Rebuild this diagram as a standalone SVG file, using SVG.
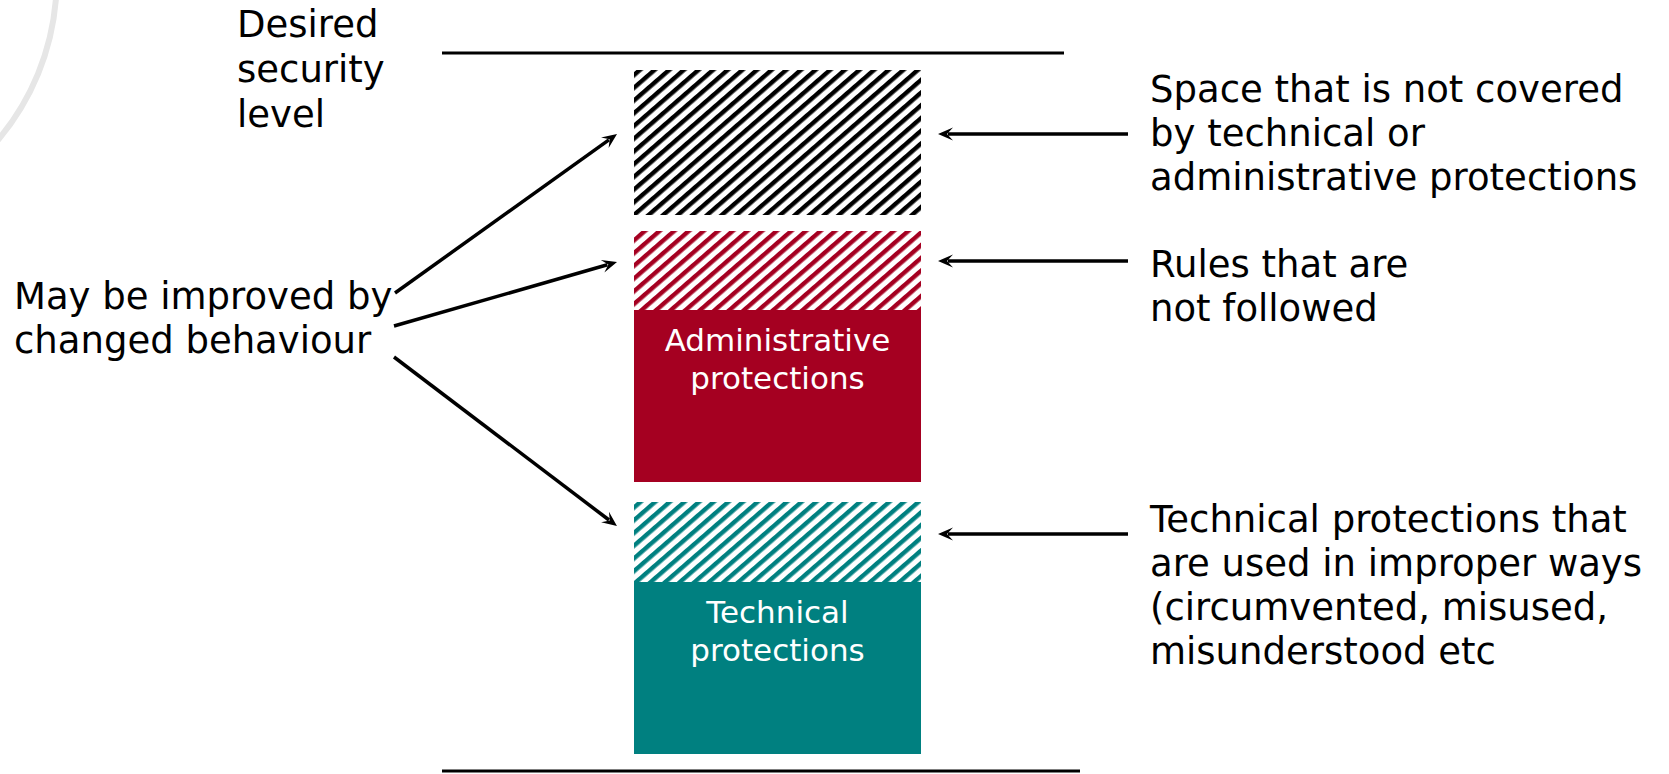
<svg xmlns="http://www.w3.org/2000/svg" width="1669" height="774" viewBox="0 0 1669 774">
  <style>
    .lbl { font-family: "DejaVu Sans", Verdana, sans-serif; font-size: 37px; fill: #000; }
    .inner { font-family: "DejaVu Sans", Verdana, sans-serif; font-size: 31px; fill: #fff; text-anchor: middle; }
    .rule { stroke: #000; stroke-width: 3; }
    .conn { stroke: #000; stroke-width: 3.5; fill: none; marker-end: url(#head); }
  </style>
  <defs>
    <marker id="head" markerUnits="userSpaceOnUse" markerWidth="15" markerHeight="13" refX="5" refY="6.5" orient="auto" overflow="visible">
      <path d="M0,0 L15,6.5 L0,13 L6,6.5 Z" fill="#000"/>
    </marker>
    <pattern id="hatchBlack" patternUnits="userSpaceOnUse" width="10" height="9.6" patternTransform="rotate(-41)">
      <rect x="0" y="0" width="10" height="9.6" fill="#fff"/>
      <rect x="0" y="0" width="10" height="4.4" fill="#000"/>
    </pattern>
    <pattern id="hatchRed" patternUnits="userSpaceOnUse" width="10" height="9.6" patternTransform="rotate(-41)">
      <rect x="0" y="0" width="10" height="9.6" fill="#fff"/>
      <rect x="0" y="0" width="10" height="4.4" fill="#A50021"/>
    </pattern>
    <pattern id="hatchTeal" patternUnits="userSpaceOnUse" width="10" height="9.6" patternTransform="rotate(-41)">
      <rect x="0" y="0" width="10" height="9.6" fill="#fff"/>
      <rect x="0" y="0" width="10" height="4.4" fill="#008080"/>
    </pattern>
  </defs>

  <rect width="1669" height="774" fill="#fff"/>

  <!-- faint seal edge in the corner -->
  <path d="M56,-2 A250,250 0 0 1 -2,140" fill="none" stroke="#e6e6e6" stroke-width="6"/>

  <!-- reference levels -->
  <line class="rule" x1="442" y1="53" x2="1064" y2="53"/>
  <line class="rule" x1="442" y1="771" x2="1080" y2="771"/>

  <g id="desired-level">
    <text class="lbl" x="237" y="37">Desired</text>
    <text class="lbl" x="237" y="82">security</text>
    <text class="lbl" x="237" y="127">level</text>
  </g>

  <g id="uncovered-space">
    <rect x="634" y="70" width="287" height="145" fill="url(#hatchBlack)"/>
  </g>

  <g id="administrative">
    <rect x="634" y="231" width="287" height="79" fill="url(#hatchRed)"/>
    <rect x="634" y="310" width="287" height="172" fill="#A50021"/>
    <text class="inner" x="777.5" y="351">Administrative</text>
    <text class="inner" x="777.5" y="389">protections</text>
  </g>

  <g id="technical">
    <rect x="634" y="502" width="287" height="80" fill="url(#hatchTeal)"/>
    <rect x="634" y="582" width="287" height="172" fill="#008080"/>
    <text class="inner" x="777.5" y="623">Technical</text>
    <text class="inner" x="777.5" y="661">protections</text>
  </g>

  <g id="behaviour">
    <text class="lbl" x="14" y="309">May be improved by</text>
    <text class="lbl" x="14" y="353">changed behaviour</text>
  </g>

  <g id="note-uncovered">
    <text class="lbl" x="1150" y="102">Space that is not covered</text>
    <text class="lbl" x="1150" y="146">by technical or</text>
    <text class="lbl" x="1150" y="190">administrative protections</text>
  </g>

  <g id="note-rules">
    <text class="lbl" x="1150" y="277">Rules that are</text>
    <text class="lbl" x="1150" y="321">not followed</text>
  </g>

  <g id="note-technical">
    <text class="lbl" x="1150" y="532">Technical protections that</text>
    <text class="lbl" x="1150" y="576">are used in improper ways</text>
    <text class="lbl" x="1150" y="620">(circumvented, misused,</text>
    <text class="lbl" x="1150" y="664">misunderstood etc</text>
  </g>

  <g id="connectors">
    <path class="conn" d="M395,293 L608.9,139.8"/>
    <path class="conn" d="M394,326 L607.4,264.8"/>
    <path class="conn" d="M394,357 L609,520"/>
    <path class="conn" d="M1128,134 L948,134"/>
    <path class="conn" d="M1128,261 L948,261"/>
    <path class="conn" d="M1128,534 L948,534"/>
  </g>
</svg>
